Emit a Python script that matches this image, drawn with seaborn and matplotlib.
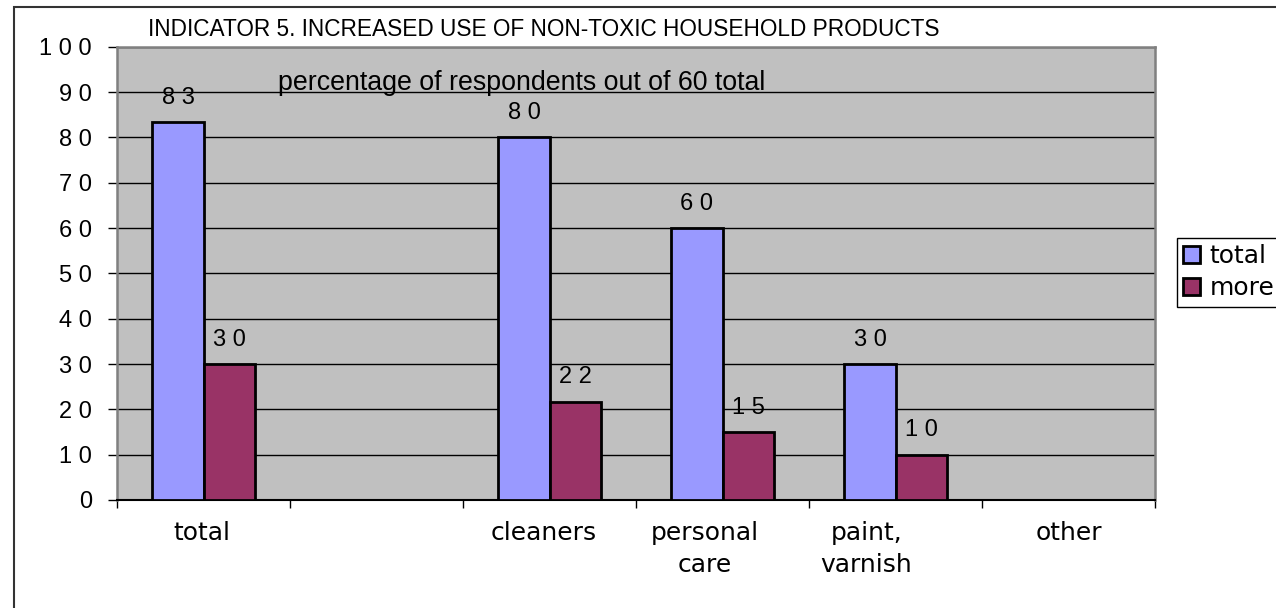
import matplotlib
matplotlib.use("Agg")
import matplotlib.pyplot as plt
import matplotlib.transforms as mtransforms
from matplotlib.patches import Rectangle
import pandas as pd
import seaborn as sns

# Survey results (percent of 60 respondents)
axis_order = ["total", " ", "cleaners", "personal\ncare", "paint,\nvarnish", "other"]
measured_categories = ["total", "cleaners", "personal\ncare", "paint,\nvarnish"]
series_names = ["total", "more"]
total_values = [83.3, 80.0, 60.0, 30.0]
more_values = [30.0, 21.7, 15.0, 10.0]
y_ticks = [0, 10, 20, 30, 40, 50, 60, 70, 80, 90, 100]

title_text = "INDICATOR 5. INCREASED USE OF NON-TOXIC HOUSEHOLD PRODUCTS"
subtitle_text = "percentage of respondents out of 60 total"

colors = ["#9999FF", "#993366"]

df = pd.DataFrame({
    "category": measured_categories * 2,
    "percent": total_values + more_values,
    "series": [series_names[0]] * len(total_values) + [series_names[1]] * len(more_values),
})

sns.set_style("white")
plt.rcParams["font.family"] = ["Liberation Sans", "DejaVu Sans"]
plt.rcParams["text.color"] = "black"
plt.rcParams["xtick.color"] = "black"
plt.rcParams["ytick.color"] = "black"
plt.rcParams["xtick.labelcolor"] = "black"
plt.rcParams["ytick.labelcolor"] = "black"

W, H = 1276, 608
fig = plt.figure(figsize=(W / 100, H / 100), dpi=100)

# outer chart frame (runs off the right and bottom edges)
fig.patches.append(Rectangle((14 / W, -0.1), 1.2, 1.1 - 7 / H, transform=fig.transFigure,
                             fill=False, edgecolor="#333333", linewidth=1.5))

left, right, top, bottom = 117, 1155, 46.7, 500
ax = fig.add_axes([left / W, 1 - bottom / H, (right - left) / W, (bottom - top) / H])
ax.set_facecolor("#C0C0C0")

sns.barplot(data=df, x="category", y="percent", hue="series", order=axis_order,
            hue_order=series_names, palette=colors, saturation=1, width=0.59, gap=0,
            edgecolor="black", linewidth=2, errorbar=None, ax=ax, zorder=3)

ax.set_ylim(0, 100)
ax.set_xlim(-0.5, len(axis_order) - 0.5)
ax.set_yticks(y_ticks)
ax.set_yticklabels([" ".join(str(t)) for t in y_ticks])
ax.yaxis.grid(True, color="black", linewidth=1.0, zorder=1)
ax.set_axisbelow(True)
ax.set_xlabel("")
ax.set_ylabel("")

for side in ["left", "right", "top"]:
    ax.spines[side].set_color("#808080")
    ax.spines[side].set_linewidth(1.8)
ax.spines["bottom"].set_color("black")
ax.spines["bottom"].set_linewidth(1.5)

ax.tick_params(axis="y", which="major", left=True, direction="out", length=6.5,
               width=1, color="black", pad=11.5, labelsize=17, labelcolor="black")
ax.set_xticks(range(len(axis_order)))
ax.set_xticklabels(axis_order, family="DejaVu Sans", fontsize=18, color="black")
ax.set_xticks([i - 0.5 for i in range(len(axis_order) + 1)], minor=True)
ax.tick_params(axis="x", which="major", bottom=True, length=0, pad=15)
ax.tick_params(axis="x", which="minor", bottom=True, direction="out", length=6,
               width=1, color="black")

# wrapped category labels sit a little left of their slot centre
label_shift_px = [-2, 0, -6, -18, -29, 0]
for lab, dx in zip(ax.get_xticklabels(), label_shift_px):
    lab.set_linespacing(1.45)
    lab.set_transform(lab.get_transform() +
                      mtransforms.ScaledTranslation(dx / 100, 0, fig.dpi_scale_trans))

# value labels above each bar
for container in ax.containers:
    labels = [" ".join(f"{bar.get_height():.0f}") for bar in container]
    ax.bar_label(container, labels=labels, padding=9.5, fontsize=17, color="black")

# legend, partly cut off at the right edge
handles, labels = ax.get_legend_handles_labels()
if ax.get_legend() is not None:
    ax.get_legend().remove()
leg = fig.legend(handles, labels, loc="upper left", bbox_to_anchor=(1177 / W, 1 - 238 / H),
                 prop={"family": "DejaVu Sans", "size": 18}, frameon=True, fancybox=False,
                 edgecolor="black", framealpha=1, borderpad=0.25, labelspacing=0.32,
                 handlelength=0.65, handleheight=0.65, handletextpad=0.4, borderaxespad=0)
leg.get_frame().set_linewidth(1.0)
for t in leg.get_texts():
    t.set_color("black")

fig.text(148 / W, 1 - 36 / H, title_text, fontsize=16.3, va="baseline", ha="left",
         color="black")
fig.text(278 / W, 1 - 90 / H, subtitle_text, fontsize=19.3, va="baseline", ha="left",
         color="black")

fig.savefig("out.png", dpi=100)
